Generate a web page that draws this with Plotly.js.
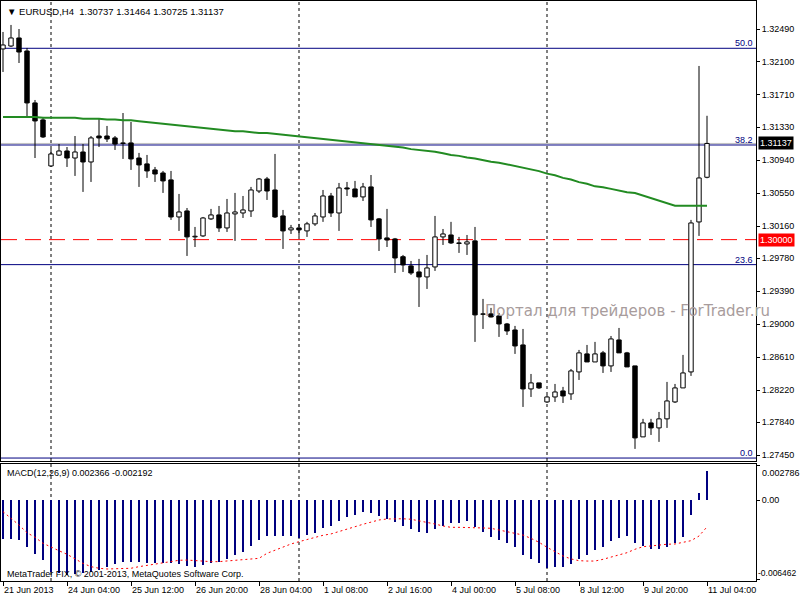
<!DOCTYPE html>
<html><head><meta charset="utf-8">
<script src="https://cdn.plot.ly/plotly-3.0.1.min.js"></script>
<style>html,body{margin:0;padding:0;background:#fff}#chart{width:800px;height:600px}</style>
</head><body><div id="chart"></div>
<script>
const symbol = 'EURUSD,H4';
const timeLabels = ['21 Jun 2013','24 Jun 04:00','25 Jun 12:00','26 Jun 20:00','28 Jun 04:00','1 Jul 08:00','2 Jul 16:00','4 Jul 00:00','5 Jul 08:00','8 Jul 12:00','9 Jul 20:00','11 Jul 04:00'];
const timeLabelBars = [0,8,16,24,32,40,48,56,64,72,80,88];
const weekSeparators = [6,37,68];

const opens = [1.32254,1.32289,1.32384,1.32230,1.31616,1.31415,1.30871,1.30999,1.31048,1.30965,
1.31036,1.30918,1.31225,1.31225,1.31202,1.31143,1.31143,1.30965,1.30895,1.30824,
1.30788,1.30706,1.30268,1.30339,1.30032,1.30044,1.30245,1.30292,1.30138,1.30304,
1.30315,1.30339,1.30575,1.30717,1.30587,1.30280,1.30115,1.30138,1.30103,1.30186,
1.30268,1.30516,1.30315,1.30611,1.30599,1.30505,1.30623,1.30245,1.30020,1.30008,
1.29798,1.29689,1.29618,1.29559,1.29677,1.30032,1.30055,1.29961,1.29949,1.29985,
1.29122,1.29122,1.29098,1.29003,1.28932,1.28755,1.28235,1.28306,1.28081,1.28140,
1.28211,1.28176,1.28436,1.28649,1.28554,1.28661,1.28507,1.28814,1.28661,1.28507,
1.27668,1.27833,1.27774,1.27881,1.28081,1.28247,1.28436,1.30209,1.30737];
const highs = [1.32455,1.32538,1.32490,1.32266,1.31651,1.31450,1.31072,1.31130,1.31095,1.31225,
1.31130,1.31225,1.31426,1.31344,1.31225,1.31497,1.31391,1.31025,1.31001,1.30859,
1.30812,1.30812,1.30540,1.30374,1.30150,1.30268,1.30363,1.30398,1.30481,1.30552,
1.30516,1.30623,1.30729,1.30741,1.31013,1.30351,1.30174,1.30186,1.30210,1.30315,
1.30587,1.30552,1.30670,1.30682,1.30694,1.30670,1.30764,1.30256,1.30363,1.30020,
1.29819,1.29748,1.29772,1.29819,1.30280,1.30126,1.30210,1.30032,1.30055,1.30150,
1.29299,1.29193,1.29133,1.29015,1.28980,1.28944,1.28412,1.28306,1.28164,1.28294,
1.28259,1.28471,1.28696,1.28755,1.28791,1.28684,1.28861,1.28956,1.28673,1.28507,
1.27881,1.27881,1.27963,1.28318,1.28294,1.28637,1.30233,1.32053,1.31464];
const lows = [1.31982,1.32277,1.32088,1.31450,1.30965,1.31202,1.30859,1.30990,1.30859,1.30753,
1.30564,1.30682,1.31095,1.31154,1.31060,1.30954,1.30824,1.30623,1.30730,1.30682,
1.30552,1.30233,1.30103,1.29807,1.29913,1.30032,1.30233,1.30091,1.30091,1.29985,
1.30256,1.30268,1.30551,1.30469,1.30256,1.29890,1.30067,1.30044,1.30032,1.30162,
1.30210,1.30268,1.30103,1.30516,1.30505,1.30457,1.30150,1.29866,1.29913,1.29606,
1.29618,1.29583,1.29204,1.29417,1.29630,1.29937,1.29949,1.29843,1.29819,1.28791,
1.28944,1.29080,1.28850,1.28873,1.28649,1.28022,1.28140,1.28235,1.28069,1.28081,
1.28069,1.28105,1.28341,1.28554,1.28554,1.28424,1.28436,1.28661,1.28495,1.27526,
1.27668,1.27691,1.27609,1.27774,1.28069,1.28247,1.28389,1.30044,1.30725];
const closes = [1.32301,1.32384,1.32218,1.31616,1.31403,1.31214,1.31013,1.31048,1.30965,1.31036,
1.30918,1.31202,1.31202,1.31190,1.31130,1.31137,1.30954,1.30883,1.30812,1.30776,
1.30694,1.30268,1.30327,1.30032,1.30040,1.30256,1.30292,1.30138,1.30315,1.30327,
1.30351,1.30587,1.30717,1.30575,1.30268,1.30103,1.30138,1.30115,1.30186,1.30280,
1.30516,1.30315,1.30611,1.30599,1.30505,1.30623,1.30233,1.30008,1.29996,1.29783,
1.29701,1.29606,1.29559,1.29665,1.30032,1.30067,1.29961,1.29955,1.29973,1.29110,
1.29118,1.29086,1.29003,1.28920,1.28743,1.28235,1.28306,1.28247,1.28140,1.28199,
1.28152,1.28448,1.28661,1.28554,1.28649,1.28507,1.28826,1.28661,1.28495,1.27656,
1.27833,1.27774,1.27881,1.28093,1.28247,1.28424,1.30197,1.30729,1.31137];
const movingAverage = [1.3145,1.3145,1.3145,1.3145,1.3145,1.3144,1.3144,1.3144,1.3144,1.3144,
1.3143,1.3143,1.3143,1.3142,1.3142,1.3141,1.3141,1.3140,1.3139,1.3138,
1.3137,1.3136,1.3135,1.3134,1.3133,1.3132,1.3131,1.3130,1.3129,1.3128,
1.3128,1.3127,1.3126,1.3126,1.3125,1.3124,1.3123,1.3122,1.3121,1.3120,
1.3119,1.3118,1.3117,1.3116,1.3115,1.3114,1.3113,1.3112,1.3111,1.3110,
1.3109,1.3107,1.3106,1.3105,1.3104,1.3102,1.3100,1.3099,1.3097,1.3096,
1.3094,1.3092,1.3091,1.3089,1.3087,1.3085,1.3083,1.3081,1.3078,1.3076,
1.3073,1.3071,1.3068,1.3066,1.3063,1.3062,1.3060,1.3058,1.3056,1.3055,
1.3052,1.3049,1.3046,1.3043,1.3040,1.3040,1.3040,1.3040,1.3040];
const macdMain = [-0.00318,-0.00318,-0.00326,-0.00381,-0.00441,-0.00490,-0.00585,-0.00596,-0.00612,-0.00604,
-0.00596,-0.00585,-0.00571,-0.00544,-0.00522,-0.00503,-0.00503,-0.00503,-0.00514,-0.00514,
-0.00512,-0.00514,-0.00522,-0.00539,-0.00544,-0.00530,-0.00512,-0.00506,-0.00484,-0.00449,
-0.00422,-0.00375,-0.00326,-0.00294,-0.00294,-0.00294,-0.00294,-0.00313,-0.00286,-0.00267,
-0.00226,-0.00210,-0.00171,-0.00136,-0.00122,-0.00095,-0.00104,-0.00131,-0.00157,-0.00177,
-0.00212,-0.00234,-0.00259,-0.00267,-0.00237,-0.00210,-0.00190,-0.00185,-0.00169,-0.00223,
-0.00264,-0.00299,-0.00326,-0.00348,-0.00381,-0.00449,-0.00479,-0.00512,-0.00557,-0.00544,
-0.00544,-0.00522,-0.00481,-0.00449,-0.00408,-0.00381,-0.00332,-0.00308,-0.00294,-0.00348,
-0.00375,-0.00400,-0.00400,-0.00381,-0.00348,-0.00299,-0.00122,0.00060,0.002366];
const macdSignal = [-0.00095,-0.00149,-0.00204,-0.00267,-0.00304,-0.00353,-0.00386,-0.00414,-0.00443,-0.00481,
-0.00517,-0.00544,-0.00557,-0.00563,-0.00563,-0.00563,-0.00557,-0.00544,-0.00533,-0.00520,
-0.00508,-0.00500,-0.00492,-0.00490,-0.00495,-0.00500,-0.00503,-0.00503,-0.00498,-0.00495,
-0.00490,-0.00481,-0.00476,-0.00435,-0.00408,-0.00386,-0.00359,-0.00340,-0.00321,-0.00304,
-0.00288,-0.00277,-0.00259,-0.00239,-0.00218,-0.00198,-0.00180,-0.00163,-0.00155,-0.00153,
-0.00153,-0.00157,-0.00169,-0.00180,-0.00196,-0.00212,-0.00223,-0.00223,-0.00223,-0.00223,
-0.00228,-0.00231,-0.00245,-0.00259,-0.00267,-0.00286,-0.00313,-0.00345,-0.00386,-0.00422,
-0.00457,-0.00481,-0.00495,-0.00498,-0.00498,-0.00484,-0.00465,-0.00449,-0.00430,-0.00402,
-0.00381,-0.00375,-0.00367,-0.00361,-0.00359,-0.00348,-0.00332,-0.00294,-0.002192];

const priceTicks = [1.32490,1.32100,1.31710,1.31330,1.30940,1.30550,1.30160,1.29780,1.29390,1.29000,1.28610,1.28220,1.27840,1.27450];
const fibLow = 1.27418, fibHigh = 1.37106;
const fibLevels = [0, 23.6, 38.2, 50.0];
const bidPrice = 1.31137;
const alertPrice = 1.30000;
const macdMax = 0.002786, macdMin = -0.006462;
const watermark = 'Портал для трейдеров - ForTrader.ru';
const copyright = 'MetaTrader FIX, © 2001-2013, MetaQuotes Software Corp.';

const FONT = '"Liberation Sans", Arial, sans-serif';
const n = opens.length;
const idx = opens.map((_, i) => i);

const bodyBase = [], bodyLen = [], bodyColor = [];
const wx = [], wy = [];
for (let i = 0; i < n; i++) {
  const top = Math.max(opens[i], closes[i]), bot = Math.min(opens[i], closes[i]);
  bodyBase.push(bot);
  bodyLen.push(Math.max(top - bot, 0.00001));
  bodyColor.push(closes[i] >= opens[i] ? '#ffffff' : '#000000');
  if (highs[i] > top) { wx.push(i, i, null); wy.push(top, highs[i], null); }
  if (lows[i] < bot) { wx.push(i, i, null); wy.push(bot, lows[i], null); }
}

const traces = [
  {type:'scatter', mode:'lines', x:wx, y:wy, xaxis:'x2', yaxis:'y', line:{color:'#000', width:1}, hoverinfo:'skip', connectgaps:false},
  {type:'bar', x:idx, base:bodyBase, y:bodyLen, xaxis:'x2', yaxis:'y', width:0.55,
   marker:{color:bodyColor, line:{color:'#000', width:1}}, hoverinfo:'skip'},
  {type:'scatter', mode:'lines', x:idx, y:movingAverage, xaxis:'x2', yaxis:'y', line:{color:'#228b22', width:2}, hoverinfo:'skip'},
  {type:'bar', x:idx, y:macdMain, xaxis:'x', yaxis:'y2', width:0.2, marker:{color:'#000080', line:{width:0}}, hoverinfo:'skip'},
  {type:'scatter', mode:'lines', x:idx, y:macdSignal, xaxis:'x', yaxis:'y2', line:{color:'#ff0000', width:1, dash:'2px,3px'}, hoverinfo:'skip'}
];

const fibPrice = l => fibLow + (fibHigh - fibLow) * l / 100;
const shapes = [];
shapes.push({type:'line', xref:'paper', x0:0, x1:1, yref:'y', y0:bidPrice, y1:bidPrice, line:{color:'#c0c0c0', width:1}, layer:'below'});
fibLevels.forEach(l => shapes.push({type:'line', xref:'paper', x0:0, x1:1, yref:'y', y0:fibPrice(l), y1:fibPrice(l), line:{color:'#000080', width:1}, layer:'below'}));
shapes.push({type:'line', xref:'paper', x0:0, x1:1, yref:'y', y0:alertPrice, y1:alertPrice, line:{color:'#ff0000', width:1, dash:'16px,8px'}, layer:'below'});
weekSeparators.forEach(s => shapes.push({type:'line', xref:'x', x0:s, x1:s, yref:'paper', y0:0, y1:1, line:{color:'#000', width:1, dash:'3px,3px'}, layer:'below'}));

const last = n - 1;
const annotations = [
  {xref:'paper', yref:'paper', x:0, y:1, xanchor:'left', yanchor:'top', xshift:4, yshift:-3, showarrow:false,
   text:'▼ ' + symbol + '  ' + [opens[last], highs[last], lows[last], closes[last]].map(v => v.toFixed(5)).join(' '),
   font:{family:FONT, size:9.5, color:'#000'}},
  {xref:'paper', yref:'paper', x:0, y:0.20172, xanchor:'left', yanchor:'top', xshift:4, yshift:-2, showarrow:false,
   text:'MACD(12,26,9) ' + macdMain[last].toFixed(6) + ' ' + macdSignal[last].toFixed(6),
   font:{family:FONT, size:9, color:'#000'}},
  {xref:'paper', yref:'paper', x:0, y:0, xanchor:'left', yanchor:'bottom', xshift:4, yshift:0, showarrow:false,
   text:copyright, font:{family:FONT, size:9, color:'#000'}},
  {xref:'paper', yref:'paper', x:0.638, y:0.4655, xanchor:'left', yanchor:'middle', showarrow:false,
   text:watermark, font:{family:'"DejaVu Sans", sans-serif', size:15, color:'#a89c9c'}},
  {xref:'paper', yref:'y', x:1, y:bidPrice, xanchor:'left', yanchor:'middle', xshift:2, showarrow:false,
   text:bidPrice.toFixed(5), bgcolor:'#000', borderpad:1, font:{family:FONT, size:9, color:'#fff'}},
  {xref:'paper', yref:'y', x:1, y:alertPrice, xanchor:'left', yanchor:'middle', xshift:2, showarrow:false,
   text:alertPrice.toFixed(5), bgcolor:'#ff0000', borderpad:1, font:{family:FONT, size:9, color:'#fff'}},
  {xref:'paper', yref:'y2', x:1, y:macdMax, xanchor:'left', yanchor:'top', xshift:4, showarrow:false,
   text:macdMax.toFixed(6), font:{family:FONT, size:9, color:'#000'}},
  {xref:'paper', yref:'y2', x:1, y:macdMin, xanchor:'left', yanchor:'bottom', xshift:1, borderpad:0, showarrow:false,
   text:macdMin.toFixed(6), font:{family:FONT, size:8.5, color:'#000'}}
];
fibLevels.forEach(l => annotations.push({xref:'paper', yref:'y', x:1, y:fibPrice(l), xanchor:'right', yanchor:'bottom', xshift:-1, yshift:-2, showarrow:false,
  text:l.toFixed(1), font:{family:FONT, size:9, color:'#000080'}}));

const axisCommon = {showline:true, mirror:true, linecolor:'#000', linewidth:1, showgrid:false, zeroline:false, fixedrange:true};
const layout = {
  width:800, height:600, margin:{l:1, r:44, t:1, b:19},
  paper_bgcolor:'#fff', plot_bgcolor:'#fff', showlegend:false, bargap:0,
  font:{family:FONT, size:9, color:'#000'},
  xaxis:Object.assign({}, axisCommon, {domain:[0,1], anchor:'y2', range:[-0.25, 94.125], tickmode:'array', tickvals:timeLabelBars, ticktext:timeLabels,
    ticks:'outside', ticklen:4, tickcolor:'#000', ticklabelposition:'outside right', tickfont:{family:FONT, size:9, color:'#000'}}),
  xaxis2:Object.assign({}, axisCommon, {matches:'x', anchor:'y', domain:[0,1], showticklabels:false, ticks:''}),
  yaxis:Object.assign({}, axisCommon, {domain:[0.2069,1], anchor:'x2', side:'right', range:[1.27383, 1.32821], tickmode:'array', tickvals:priceTicks,
    ticktext:priceTicks.map(v => v.toFixed(5)), ticks:'outside', ticklen:3, tickcolor:'#000', tickfont:{family:FONT, size:9, color:'#000'}}),
  yaxis2:Object.assign({}, axisCommon, {domain:[0,0.20172], anchor:'x', side:'right', range:[-0.0066096, 0.0029376], tickmode:'array',
    tickvals:[macdMax, 0, macdMin], ticktext:['', '0.00', ''], ticks:'outside', ticklen:3, tickcolor:'#000', tickfont:{family:FONT, size:9, color:'#000'}}),
  shapes:shapes, annotations:annotations
};
Plotly.newPlot('chart', traces, layout, {displayModeBar:false, staticPlot:true});
</script></body></html>
